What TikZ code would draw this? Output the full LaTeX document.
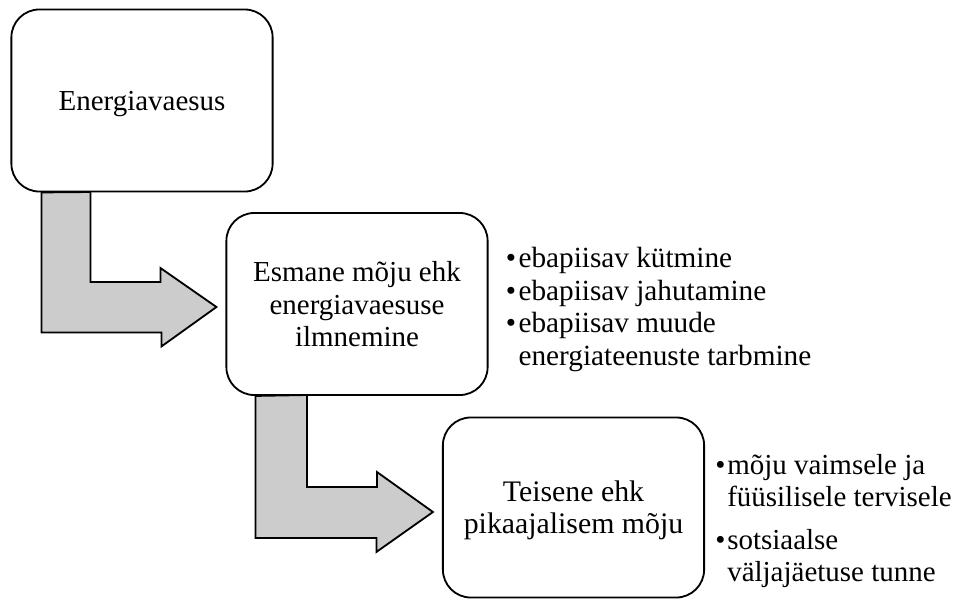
\documentclass[tikz,border=0pt]{standalone}
\usepackage{fontspec}
\setmainfont{Liberation Serif}
\usetikzlibrary{calc,backgrounds}
\tikzset{every node/.append style={align=center}}
\definecolor{arrowgray}{RGB}{204, 204, 204}

\begin{document}
\begin{tikzpicture}[
    x=0.025cm, y=-0.025cm,
    stage/.style={draw, line width=1.3pt, fill=white, rounded corners=0.7cm, minimum width=6.53cm, minimum height=4.55cm, inner sep=0pt, text depth=0pt, font=\fontsize{20.6}{22.8}\selectfont},
    blockarrow/.style={draw, line width=1.3pt, fill=arrowgray, line join=miter},
    effects/.style={anchor=north west, inner sep=0pt, align=left, font=\fontsize{20.6}{22.8}\selectfont},
]
    \useasboundingbox (0, 0) rectangle (960, 599);

    % Stages
    \node[stage] (energy) at (142, 100.5) {Energiavaesus};
    \node[stage] (primary) at (357, 304) {Esmane mõju ehk\\energiavaesuse\\ilmnemine};
    \node[stage, minimum height=4.5cm, font=\fontsize{21.2}{22.8}\selectfont] (secondary) at (573.5, 507.5) {Teisene ehk\\pikaajalisem mõju};

    % Effects
    \node[effects, font=\fontsize{20.8}{23.2}\selectfont] (primarylist) at (505.5, 247) {\makebox[0.32cm][l]{\textbullet}ebapiisav kütmine\\
        \makebox[0.32cm][l]{\textbullet}ebapiisav jahutamine\\
        \makebox[0.32cm][l]{\textbullet}ebapiisav muude\\
        \hspace*{0.32cm}energiateenuste tarbmine};
    \node[effects] (secondarylist) at (715, 454.5) {\makebox[0.3cm][l]{\textbullet}mõju vaimsele ja\\
        \hspace*{0.3cm}füüsilisele tervisele\\[0.25cm]
        \makebox[0.3cm][l]{\textbullet}sotsiaalse\\
        \hspace*{0.3cm}väljajäetuse tunne};

    % Bent arrows
    \begin{scope}[on background layer]
        \draw[blockarrow] ($(energy.south west)+(31, 0)$) -- ++(0, 140) -- ++(120, 0) -- ++(0, 14)
            -- ($(primary.west)+(-9, 3)$) -- ++(-56, -39) -- ++(0, 14) -- ++(-70, 0) -- ++(0, -90) -- cycle;
        \draw[blockarrow] ($(primary.south west)+(30, 0)$) -- ++(0, 142) -- ++(121, 0) -- ++(0, 14)
            -- ($(secondary.west)+(-9, 4.5)$) -- ++(-56, -40) -- ++(0, 15) -- ++(-70, 0) -- ++(0, -92) -- cycle;
    \end{scope}
\end{tikzpicture}
\end{document}
